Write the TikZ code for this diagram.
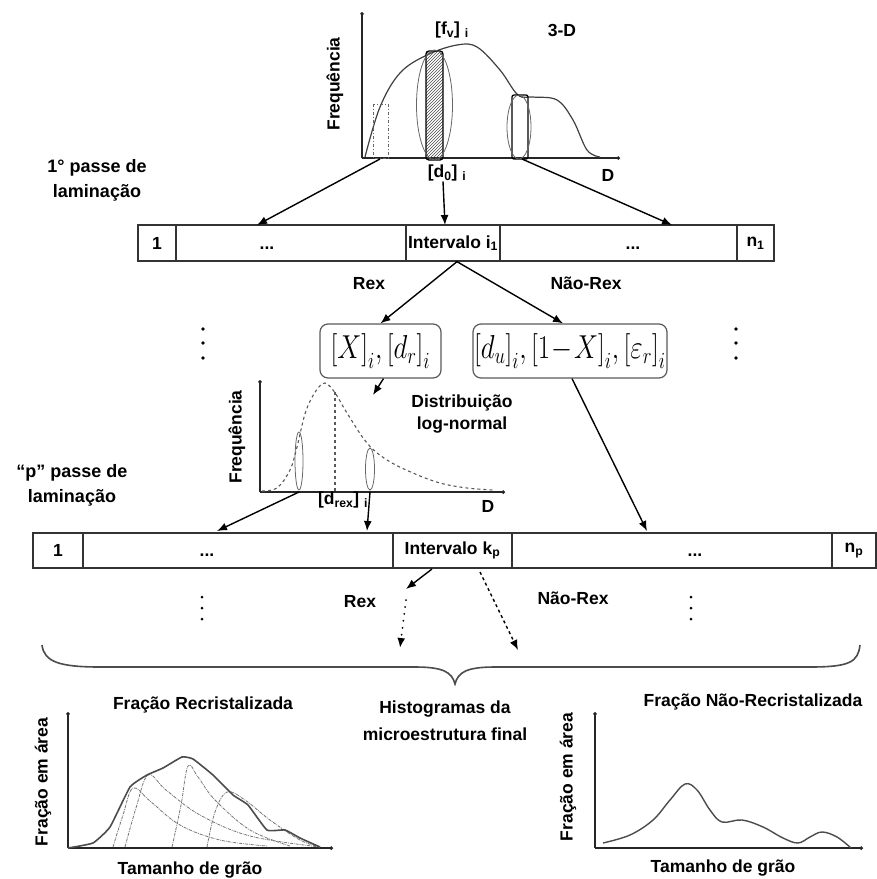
\documentclass[tikz,border=0pt]{standalone}
\usepackage{graphicx}
\usepackage{fontspec}
\setmainfont{Liberation Sans}
\usetikzlibrary{arrows.meta,patterns,shapes.geometric}
\begin{document}
\begin{tikzpicture}[x=1pt,y=-1pt,
  lbl/.style={font=\fontsize{17.5}{21}\selectfont\bfseries, inner sep=0pt, align=center},
  big/.style={font=\fontsize{18}{25}\selectfont\bfseries, inner sep=0pt, align=center},
  cell/.style={draw=black!80, line width=1.3pt, minimum height=36pt, inner sep=0pt, font=\fontsize{17.5}{21}\selectfont\bfseries},
  dotsl/.style={font=\fontsize{17.5}{21}\selectfont\bfseries, inner sep=0pt, anchor=base},
  arr/.style={line width=1.4pt, -{Latex[length=10pt,width=8pt]}},
  axis/.style={line width=1.2pt, draw=black!85, -{Circle[length=3.5pt]}},
  mbox/.style={draw=black!65, line width=1.2pt, rounded corners=8pt, inner sep=0pt, font=\huge},
  curve/.style={line width=1.2pt, draw=black!75},
  thin ell/.style={line width=0.8pt, draw=black!60},
  comp/.style={line width=0.8pt, draw=black!55, densely dash dot},
  vdot/.style={fill=black},
]
\useasboundingbox (0,0) rectangle (877,879);

% ---------- top plot ----------
\coordinate (o1) at (362,158);
\draw[axis] (o1) -- (362,12);
\draw[axis] (o1) -- (620,158);
\draw[curve] plot[smooth, tension=0.6] coordinates {(365,157) (380,107) (400,73) (427,55) (457,45) (477,47) (500,70) (518,95) (533,97) (557,100) (573,120) (587,150) (600,157)};
\draw[black!60, line width=1pt, dash dot] (373,104) rectangle (388,158);
\draw[pattern=north east lines, pattern color=black!70, line width=1.3pt, rounded corners=3pt] (426,51) rectangle (443,160);
\draw[thin ell] (434.5,105) ellipse [x radius=18pt, y radius=55pt];
\draw[line width=1.3pt, rounded corners=2pt] (512,95) rectangle (528,159);
\draw[thin ell] (519,127) ellipse [x radius=12pt, y radius=32pt];
\node[lbl] (fv) at (452,30) {[f\textsubscript{v}] \textsubscript{i}};
\node[lbl] (d3) at (562,30) {3-D};
\node[lbl] (d0) at (447,173) {[d\textsubscript{0}] \textsubscript{i}};
\node[lbl] (dax1) at (608,175) {D};
\node[lbl, rotate=90] (fq1) at (335,84) {Frequência};

\node[big] (pass1) at (97,180) {1° passe de\\laminação};

% ---------- bar 1 ----------
\node[cell, minimum width=38pt] (b1a) at (157,243) {1};
\node[cell, minimum width=230pt] (b1b) at (291,243) {};
\node[cell, minimum width=94pt] (b1c) at (453,243) {Intervalo i\textsubscript{1}};
\node[cell, minimum width=237pt] (b1d) at (618.5,243) {};
\node[cell, minimum width=37pt] (b1e) at (755.5,243) {n\textsubscript{1}};
\node[dotsl] (dots1a) at (267,249) {...};
\node[dotsl] (dots1b) at (633,249) {...};

\coordinate (lrect) at (380,159);
\coordinate (rrect) at (522,159);
\coordinate (tip1) at (257,225);
\coordinate (tip2) at (445,225);
\coordinate (tip3) at (672,225);
\draw[arr] (lrect) -- (tip1);
\draw[arr] ([xshift=-4pt]d0.south) -- (tip2);
\draw[arr] (rrect) -- (tip3);

% ---------- Rex / Nao-Rex ----------
\node[lbl] (rex1) at (369,284) {Rex};
\node[lbl] (nrex1) at (586,283) {Não-Rex};
\node[mbox, minimum width=121pt, minimum height=54pt] (mbox1) at (380.5,351) {\scalebox{1.3}[1.6]{$\bigl[X\bigr]_{i},\bigl[d_{r}\bigr]_{i}$}};
\node[mbox, minimum width=194pt, minimum height=54pt] (mbox2) at (570,351) {\scalebox{1.3}[1.6]{$\bigl[d_{u}\bigr]_{i},\bigl[1\!-\!X\bigr]_{i},\bigl[\varepsilon_{r}\bigr]_{i}$}};
\draw[arr] ([xshift=4pt]b1c.south) -- (mbox1.north);
\draw[arr] ([xshift=4pt]b1c.south) -- ([xshift=-7pt]mbox2.north);

\foreach \yy in {329,343,358} {\fill[vdot] (203,\yy) circle (1.8pt); \fill[vdot] (736,\yy) circle (1.8pt);}

% ---------- log-normal plot ----------
\coordinate (o2) at (260,492);
\draw[axis] (o2) -- (260,380);
\draw[axis] (o2) -- (505,492);
\draw[line width=1.1pt, draw=black!65, dashed] plot[smooth, tension=0.6] coordinates {(262,491) (277,488) (290,470) (297,447) (307,408) (322,384) (333,390) (347,413) (367,443) (387,460) (413,473) (440,483) (467,488) (493,490)};
\draw[line width=1.1pt, draw=black!65, dashed] (335,392) -- (335,492);
\draw[thin ell] (299,461) ellipse [x radius=4pt, y radius=29pt];
\draw[thin ell] (370,469) ellipse [x radius=4.5pt, y radius=21pt];
\node[lbl] (drex) at (343,500) {[d\textsubscript{rex}] \textsubscript{i}};
\node[lbl] (dax2) at (488,506) {D};
\node[font=\fontsize{17.5}{22}\selectfont\bfseries, inner sep=0pt, align=center] (logn) at (462,414) {Distribuição\\log-normal};
\node[lbl, rotate=90] (fq2) at (237,437) {Frequência};
\coordinate (tipln) at (373,395);
\draw[arr] ([xshift=3pt]mbox1.south) -- (tipln);

\node[big] (passp) at (72,485) {“p” passe de\\laminação};

% ---------- bar 2 ----------
\node[cell, minimum width=50pt, minimum height=35pt] (b2a) at (58,550.5) {1};
\node[cell, minimum width=310pt, minimum height=35pt] (b2b) at (238,550.5) {};
\node[cell, minimum width=119pt, minimum height=35pt] (b2c) at (452.5,550.5) {Intervalo k\textsubscript{p}};
\node[cell, minimum width=320pt, minimum height=35pt] (b2d) at (672,550.5) {};
\node[cell, minimum width=44pt, minimum height=35pt] (b2e) at (854,550.5) {n\textsubscript{p}};
\node[dotsl] (dots2a) at (207,556) {...};
\node[dotsl] (dots2b) at (695,556) {...};

\coordinate (e1b) at (299,492);
\coordinate (e2b) at (370,492);
\coordinate (tip4) at (217,531);
\coordinate (tip5) at (367,531);
\coordinate (tip6) at (647,531);
\draw[arr] (e1b) -- (tip4);
\draw[arr] (e2b) -- (tip5);
\draw[arr] ([xshift=2pt]mbox2.south) -- (tip6);

% ---------- below bar 2 ----------
\coordinate (s1) at (432,569);
\coordinate (t1) at (406,589);
\coordinate (s2) at (406,600);
\coordinate (t2) at (400,648);
\coordinate (s3) at (480,572);
\coordinate (t3) at (518,650);
\draw[arr] (s1) -- (t1);
\draw[line width=2pt, line cap=round, dash pattern=on 0pt off 7pt, -{Latex[length=10pt,width=8pt]}] (s2) -- (t2);
\draw[line width=1.4pt, dashed, -{Latex[length=10pt,width=8pt]}] (s3) -- (t3);
\node[lbl] (rex2) at (360,602) {Rex};
\node[lbl] (nrex2) at (573,598) {Não-Rex};
\foreach \yy in {597,608,619} {\fill[vdot] (202,\yy) circle (1.5pt); \fill[vdot] (691,\yy) circle (1.5pt);}

% brace
\draw[line width=1.6pt, draw=black!70] (42,645) .. controls (44,662) and (60,667) .. (100,667) -- (415,667) .. controls (443,667) and (452,672) .. (455,684) .. controls (458,672) and (467,667) .. (495,667) -- (810,667) .. controls (850,667) and (858,662) .. (860,645);

\node[font=\fontsize{17.5}{27}\selectfont\bfseries, inner sep=0pt, align=center] (hist) at (445,721) {Histogramas da\\microestrutura final};

% ---------- left histogram ----------
\coordinate (o3) at (68,848);
\draw[axis] (o3) -- (68,712);
\draw[axis] (o3) -- (333,848);
\draw[comp] plot[smooth, tension=0.6] coordinates {(113,847) (123,815) (133,788) (150,801) (180,825) (220,840) (267,846)};
\draw[comp] plot[smooth, tension=0.6] coordinates {(125,847) (136,808) (148,775) (166,790) (200,815) (250,836) (320,847)};
\draw[comp] plot[smooth, tension=0.6] coordinates {(172,847) (181,805) (188,766) (198,777) (215,800) (250,830) (290,846)};
\draw[comp] plot[smooth, tension=0.6] coordinates {(207,847) (215,812) (227,792) (245,800) (270,820) (300,840) (320,847)};
\draw[line width=1.6pt, draw=black!70] plot[smooth, tension=0.25] coordinates {(68,848) (93,843) (110,827) (130,787) (147,775) (163,768) (182,757) (193,759) (213,775) (233,795) (248,805) (267,830) (285,830) (300,838) (320,847)};
\node[lbl] (tl) at (203,705) {Fração Recristalizada};
\node[lbl] (xl) at (190,870) {Tamanho de grão};
\node[lbl, rotate=90] (yl) at (43,782) {Fração em área};

% ---------- right histogram ----------
\coordinate (o4) at (595,848);
\draw[axis] (o4) -- (595,712);
\draw[axis] (o4) -- (863,848);
\draw[line width=1.4pt, draw=black!70] plot[smooth, tension=0.6] coordinates {(603,843) (630,835) (653,820) (670,800) (685,784) (697,790) (710,810) (722,822) (742,820) (763,827) (783,838) (798,843) (810,837) (822,832) (837,837) (851,848)};
\node[lbl] (tr) at (753,702) {Fração Não-Recristalizada};
\node[lbl] (xr) at (723,868) {Tamanho de grão};
\node[lbl, rotate=90] (yr) at (568,777) {Fração em área};
\end{tikzpicture}
\end{document}
